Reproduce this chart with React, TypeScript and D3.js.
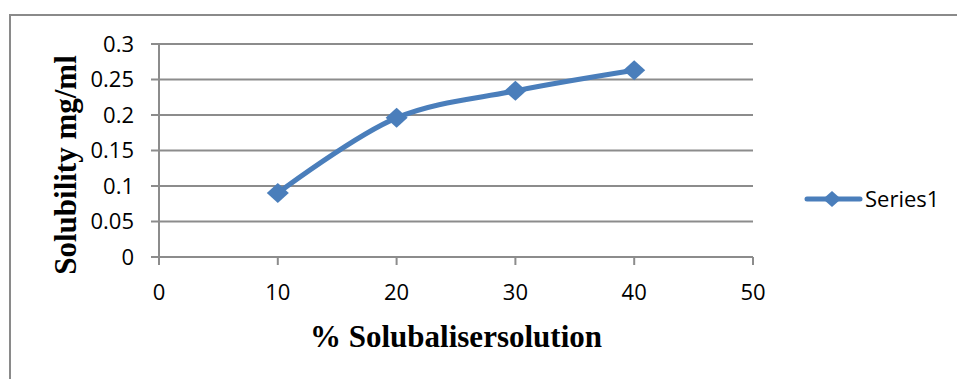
import React from "react";
import * as d3 from "d3";

const xValues = [10, 20, 30, 40];
const yValues = [0.09, 0.196, 0.234, 0.263];
const xTicks = [0, 10, 20, 30, 40, 50];
const yTicks = [0, 0.05, 0.1, 0.15, 0.2, 0.25, 0.3];
const seriesName = "Series1";
const xTitle = "% Solubalisersolution";
const yTitle = "Solubility mg/ml";

const W = 957;
const H = 379;
const left = 159;
const right = 753;
const top = 44;
const bottom = 257;
const blue = "#4A7EBB";
const grid = "#8c8c8c";

export default function App() {
  const x = d3.scaleLinear().domain([0, 50]).range([left, right]);
  const y = d3.scaleLinear().domain([0, 0.3]).range([bottom, top]);
  const pts: [number, number][] = xValues.map((v, i) => [x(v), y(yValues[i])]);
  const line = d3.line().curve(d3.curveCatmullRom.alpha(0.5))(pts) || "";
  const diamond = (cx: number, cy: number, rx: number, ry: number) =>
    `M${cx},${cy - ry}L${cx + rx},${cy}L${cx},${cy + ry}L${cx - rx},${cy}Z`;
  const tickFont = "Open Sans, Noto Sans, sans-serif";
  return (
    <svg width={W} height={H} style={{ position: "absolute", left: 0, top: 0 }}>
      <rect x={0} y={0} width={W} height={H} fill="#fff" />
      <rect x={10} y={15} width={W + 20} height={H + 20} fill="none" stroke="#8a8a8a" strokeWidth={2} />
      {yTicks.map((t) => (
        <g key={"y" + t}>
          <line x1={left - 8} x2={right} y1={y(t)} y2={y(t)} stroke={grid} strokeWidth={2} />
          <text x={134} y={y(t)} dy="0.36em" textAnchor="end" fontSize={22} fontFamily={tickFont} fill="#000">
            {String(t)}
          </text>
        </g>
      ))}
      <line x1={left} x2={left} y1={top} y2={bottom + 8} stroke={grid} strokeWidth={2} />
      {xTicks.map((t) => (
        <g key={"x" + t}>
          <line x1={x(t)} x2={x(t)} y1={bottom} y2={bottom + 8} stroke={grid} strokeWidth={2} />
          <text x={x(t)} y={292} dy="0.36em" textAnchor="middle" fontSize={22} fontFamily={tickFont} fill="#000">
            {String(t)}
          </text>
        </g>
      ))}
      <path d={line} fill="none" stroke={blue} strokeWidth={5} strokeLinejoin="round" />
      {pts.map(([px, py], i) => (
        <path key={"m" + i} d={diamond(px, py, 11, 10)} fill={blue} />
      ))}
      <text
        transform={`translate(76,165) rotate(-90)`}
        textAnchor="middle"
        fontSize={31}
        fontWeight="bold"
        fontFamily="Liberation Serif, serif"
        fill="#000"
      >
        {yTitle}
      </text>
      <text x={456} y={347} textAnchor="middle" fontSize={31} fontWeight="bold" fontFamily="Liberation Serif, serif" fill="#000">
        {xTitle}
      </text>
      <line x1={807} x2={860} y1={199} y2={199} stroke={blue} strokeWidth={5} strokeLinecap="round" />
      <path d={diamond(832, 199, 9, 8)} fill={blue} />
      <text x={865} y={199} dy="0.36em" fontSize={22} fontFamily={tickFont} fill="#000">
        {seriesName}
      </text>
    </svg>
  );
}
